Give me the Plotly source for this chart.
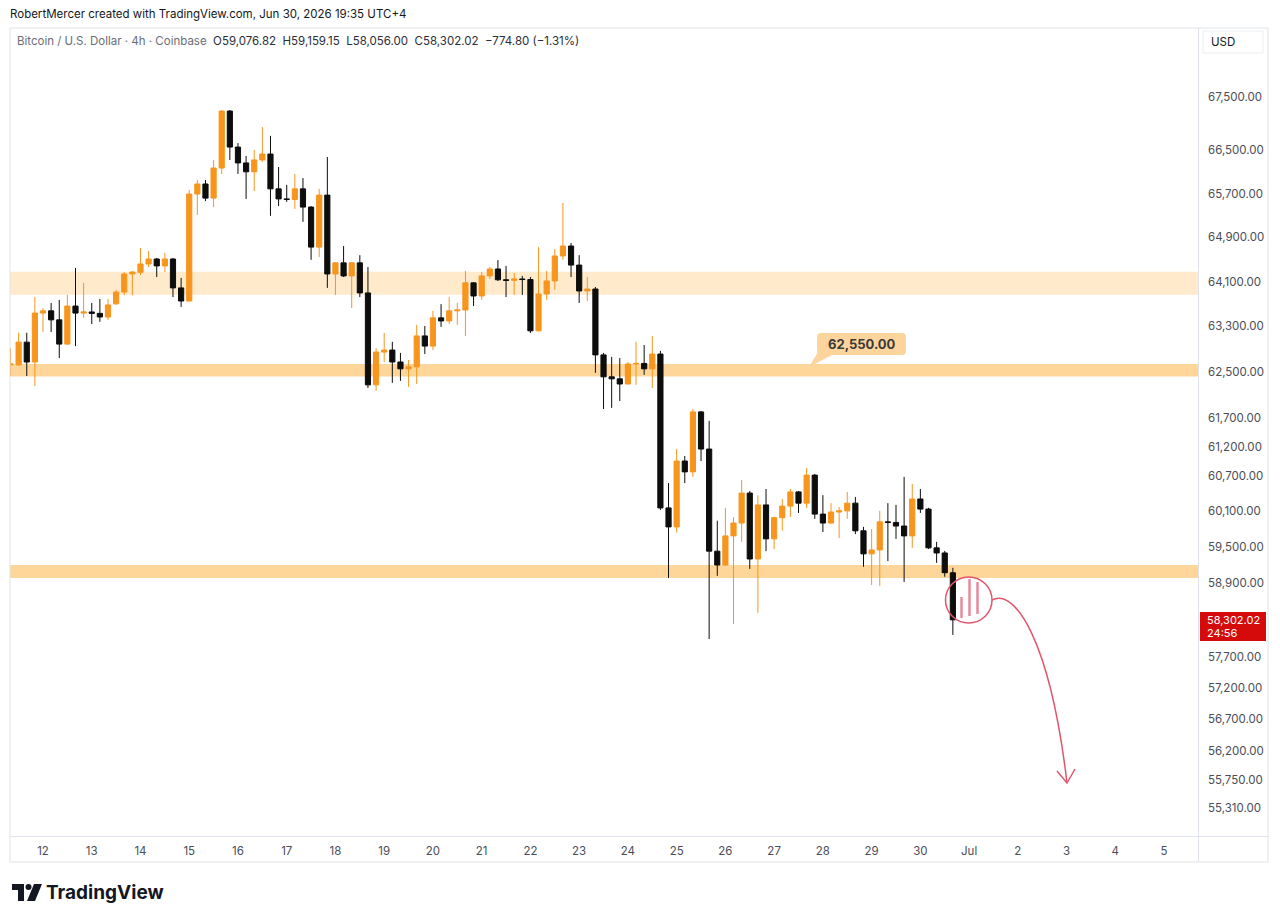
import math
import pandas as pd
import plotly.graph_objects as go

# ---------------- data (BTC/USD 4h, Coinbase) ----------------
opens = [62620, 62620, 63020, 62670, 63535, 63575, 63415, 62985, 63660, 63535,
         63555, 63530, 63465, 63700, 63910, 64235, 64265, 64415, 64505, 64380,
         64505, 63985, 63750, 65690, 65875, 65615, 66170, 67235, 66560, 66265,
         66100, 66320, 66430, 65785, 65600, 65590, 65785, 65450, 64720, 65670,
         64235, 64435, 64200, 64435, 63895, 62270, 62845, 62880, 62670, 62550,
         62585, 63130, 62950, 63450, 63395, 63575, 63590, 64075, 63840, 64200,
         64325, 64130, 64120, 64145, 64135, 63220, 63875, 64110, 64560, 64740,
         64395, 63930, 63965, 62795, 62410, 62375, 62285, 62635, 62645, 62550,
         62810, 60160, 59840, 60955, 60770, 61800, 61160, 59435, 59205, 59690,
         59905, 60410, 59305, 60210, 59640, 59995, 60190, 60430, 60240, 60715,
         60055, 59905, 60090, 60110, 60240, 59775, 59390, 59455, 59925, 59915,
         59855, 59690, 60310, 60140, 59490, 59405, 59076.82]
highs = [62915, 63185, 63185, 63820, 63625, 63715, 63770, 63860, 64345, 64075,
         63715, 63785, 63785, 63950, 64270, 64285, 64705, 64650, 64525, 64615,
         64525, 64165, 65765, 65950, 65950, 66320, 67255, 67255, 66635, 66395,
         66505, 66935, 66770, 66190, 65860, 66060, 65985, 65470, 65785, 66375,
         64450, 64740, 64440, 64575, 64360, 62915, 63183, 63025, 62830, 62705,
         63325, 63305, 63575, 63695, 63820, 63715, 64290, 64090, 64270, 64360,
         64485, 64380, 64255, 64200, 64180, 64720, 64290, 64685, 65525, 64795,
         64575, 64180, 64000, 62830, 62760, 62740, 62670, 63025, 62970, 63130,
         62865, 60580, 61160, 61040, 61850, 61815, 61645, 59945, 60160, 60005,
         60630, 60445, 60375, 60480, 60010, 60310, 60480, 60445, 60835, 60735,
         60375, 60240, 60175, 60430, 60345, 59840, 59805, 60110, 60240, 60210,
         60685, 60565, 60480, 60160, 59590, 59440, 59159.15]
lows = [62425, 62600, 62425, 62250, 63200, 63200, 62740, 62975, 62950, 63450,
        63340, 63380, 63410, 63680, 63855, 63855, 64215, 64360, 64180, 64270,
        63820, 63645, 63745, 65305, 65560, 65450, 66060, 66320, 66060, 65600,
        65745, 66285, 65290, 65470, 65545, 65415, 65180, 64490, 64540, 63985,
        63860, 64180, 63625, 63820, 62215, 62165, 62670, 62305, 62340, 62235,
        62285, 62810, 62880, 63290, 63340, 63325, 63130, 63660, 63770, 64145,
        64110, 63820, 63860, 63860, 63180, 63210, 63770, 63950, 64490, 64180,
        63715, 63750, 62480, 61850, 61870, 61990, 62280, 62270, 62445, 62215,
        60125, 58990, 59745, 60580, 60685, 60955, 57990, 59025, 59190, 58235,
        59590, 59140, 58415, 59435, 59470, 59775, 60005, 60075, 60160, 59975,
        59755, 59890, 59655, 59975, 59720, 59175, 58875, 58860, 59270, 59640,
        58925, 59490, 60075, 59470, 59240, 59010, 58056.00]
closes = [62635, 63020, 62670, 63535, 63575, 63415, 62985, 63660, 63535, 63555,
          63530, 63465, 63680, 63910, 64235, 64270, 64415, 64505, 64380, 64505,
          63985, 63750, 65690, 65875, 65615, 66170, 67235, 66560, 66265, 66100,
          66320, 66430, 65785, 65600, 65590, 65785, 65450, 64720, 65670, 64235,
          64435, 64200, 64435, 63895, 62270, 62845, 62880, 62670, 62550, 62585,
          63130, 62950, 63450, 63395, 63575, 63590, 64075, 63840, 64200, 64325,
          64130, 64120, 64145, 64135, 63220, 63875, 64110, 64560, 64740, 64395,
          63930, 63965, 62795, 62410, 62375, 62285, 62635, 62645, 62550, 62810,
          60160, 59840, 60955, 60770, 61800, 61160, 59435, 59205, 59690, 59905,
          60410, 59305, 60210, 59640, 59995, 60190, 60430, 60240, 60715, 60055,
          59905, 60090, 60110, 60240, 59775, 59390, 59455, 59925, 59915, 59855,
          59690, 60310, 60140, 59490, 59405, 59076.82, 58302.02]
first_candle = "2026-06-11 08:00"
times = pd.date_range(first_candle, periods=len(opens), freq="4h")

price_ticks = [67500, 66500, 65700, 64900, 64100, 63300, 62500, 61700, 61200,
               60700, 60100, 59500, 58900, 57700, 57200, 56700, 56200, 55750, 55310]
price_tick_labels = [f"{v:,.2f}" for v in price_ticks]

day_ticks = pd.date_range("2026-06-12", "2026-07-05", freq="D")
day_tick_labels = ["Jul" if d.day == 1 else str(d.day) for d in day_ticks]

zone_low = [63860, 62414, 58991]
zone_high = [64277, 62636, 59206]
zone_strength = ["light", "strong", "strong"]
level_label = "62,550.00"
countdown = "24:56"

# ---------------- styling ----------------
W, H = 1280, 922
PL, PR, PT, PB = 10, 1198, 28, 836
ORANGE = "#F7951D"
BLACK = "#0d0d0d"
FONT = "Inter"
GRID = "#e0e3eb"


def px(x):
    return (x - PL) / (PR - PL)


def py(y):
    return (PB - y) / (PB - PT)


fig = go.Figure()
fig.add_trace(go.Candlestick(
    x=times, open=opens, high=highs, low=lows, close=closes,
    increasing=dict(line=dict(color=ORANGE, width=1), fillcolor=ORANGE),
    decreasing=dict(line=dict(color=BLACK, width=1), fillcolor=BLACK),
    whiskerwidth=0, showlegend=False, hoverinfo="skip",
))

shapes = []
zone_colors = {"light": "rgba(255,152,0,0.20)", "strong": "rgba(255,152,0,0.40)"}
for lo, hi, s in zip(zone_low, zone_high, zone_strength):
    shapes.append(dict(type="rect", xref="paper", yref="y", x0=0, x1=1, y0=lo, y1=hi,
                       fillcolor=zone_colors[s], line=dict(width=0), layer="below"))

# frame lines
line_c = dict(color=GRID, width=1)
shapes += [
    dict(type="line", xref="paper", yref="paper", x0=px(PR + 0.5), x1=px(PR + 0.5), y0=py(PT), y1=py(862), line=line_c),
    dict(type="line", xref="paper", yref="paper", x0=px(10), x1=px(1268), y0=py(836.5), y1=py(836.5), line=line_c),
    dict(type="line", xref="paper", yref="paper", x0=px(10), x1=px(1268), y0=py(862), y1=py(862), line=line_c),
    dict(type="line", xref="paper", yref="paper", x0=px(10), x1=px(10), y0=py(PT), y1=py(862), line=line_c),
    dict(type="line", xref="paper", yref="paper", x0=px(1268), x1=px(1268), y0=py(PT), y1=py(862), line=line_c),
    dict(type="line", xref="paper", yref="paper", x0=px(10), x1=px(1268), y0=py(PT), y1=py(PT), line=line_c),
]

# USD box
shapes.append(dict(type="rect", xref="paper", yref="paper", x0=px(1203), x1=px(1263), y0=py(53), y1=py(31),
                   line=dict(color="#eceef2", width=1), fillcolor="white"))

# last-price label
shapes.append(dict(type="rect", xref="paper", yref="paper", x0=px(1200), x1=px(1266), y0=py(641), y1=py(612),
                   line=dict(width=0), fillcolor="#d50b0b"))

# callout box with pointer
def rrect(x0, y0, x1, y1, r):
    return (f"M {px(x0 + r)},{py(y0)} L {px(x1 - r)},{py(y0)} Q {px(x1)},{py(y0)} {px(x1)},{py(y0 + r)} "
            f"L {px(x1)},{py(y1 - r)} Q {px(x1)},{py(y1)} {px(x1 - r)},{py(y1)} "
            f"L {px(x0 + r)},{py(y1)} Q {px(x0)},{py(y1)} {px(x0)},{py(y1 - r)} "
            f"L {px(x0)},{py(y0 + r)} Q {px(x0)},{py(y0)} {px(x0 + r)},{py(y0)} Z")

CALL = "#fdd49c"
shapes.append(dict(type="path", xref="paper", yref="paper", path=rrect(817, 333, 906, 355, 4),
                   fillcolor=CALL, line=dict(width=0)))
shapes.append(dict(type="path", xref="paper", yref="paper",
                   path=f"M {px(818)},{py(352)} L {px(832)},{py(355)} L {px(809)},{py(367)} Z",
                   fillcolor=CALL, line=dict(width=0)))

# circle + bars + arrow (drawing)
PINK = "#e0566d"
shapes.append(dict(type="circle", xref="paper", yref="paper", x0=px(945.5), x1=px(992), y0=py(623), y1=py(577),
                   line=dict(color=PINK, width=1.5)))
for bx, by0, by1 in [(961.5, 597, 618), (969.5, 579, 616), (977.5, 582, 614)]:
    shapes.append(dict(type="line", xref="paper", yref="paper", x0=px(bx), x1=px(bx), y0=py(by0), y1=py(by1),
                       line=dict(color="#e98a9b", width=2.5)))
shapes.append(dict(type="path", xref="paper", yref="paper",
                   path=f"M {px(992)},{py(600)} C {px(1015)},{py(588)} {px(1050)},{py(640)} {px(1067)},{py(783)}",
                   line=dict(color=PINK, width=1.5)))
shapes.append(dict(type="path", xref="paper", yref="paper",
                   path=f"M {px(1057)},{py(771)} L {px(1067)},{py(783)} L {px(1075)},{py(769)}",
                   line=dict(color=PINK, width=1.5)))

# TradingView logo mark
shapes.append(dict(type="path", xref="paper", yref="paper",
                   path=f"M {px(12)},{py(884)} L {px(24)},{py(884)} L {px(24)},{py(901)} L {px(18)},{py(901)} "
                        f"L {px(18)},{py(890)} L {px(12)},{py(890)} Z",
                   fillcolor="#131722", line=dict(width=0)))
shapes.append(dict(type="circle", xref="paper", yref="paper", x0=px(25.5), x1=px(31.5), y0=py(890), y1=py(884),
                   fillcolor="#131722", line=dict(width=0)))
shapes.append(dict(type="path", xref="paper", yref="paper",
                   path=f"M {px(34)},{py(884)} L {px(42)},{py(884)} L {px(35)},{py(901)} L {px(27)},{py(901)} Z",
                   fillcolor="#131722", line=dict(width=0)))

annotations = []


def text(x, y, s, size=12, color="#131722", anchor="left", bold=False):
    annotations.append(dict(xref="paper", yref="paper", x=px(x), y=py(y), text=f"<b>{s}</b>" if bold else s,
                            showarrow=False, xanchor=anchor, yanchor="middle",
                            font=dict(family=FONT, size=size, color=color)))


text(8, 14, "RobertMercer created with TradingView.com, Jun 30, 2026 19:35 UTC+4", size=11.5)
chg = closes[-1] - opens[-1]
pct = chg / opens[-1] * 100
ohlc = (f"O{opens[-1]:,.2f}  H{highs[-1]:,.2f}  L{lows[-1]:,.2f}  C{closes[-1]:,.2f}  "
        f"{chg:,.2f} ({pct:.2f}%)").replace("-", "\u2212")
text(15, 41, f'<span style="color:#6a6d78">Bitcoin / U.S. Dollar · 4h · Coinbase</span>  '
             f'<span style="color:#2a2e39">{ohlc}</span>', size=11.5)
text(1209, 42, "USD", size=11.5)
text(1205, 620, f"{closes[-1]:,.2f}", size=11, color="white")
text(1205, 633, countdown, size=11, color="white")
text(861.5, 344, level_label, size=13, color="#3a3a3a", anchor="center", bold=True)
text(44, 892, "TradingView", size=19, color="#131722", bold=True)

fig.update_layout(
    width=W, height=H, autosize=False,
    margin=dict(l=PL, r=W - PR, t=PT, b=H - PB, pad=0),
    paper_bgcolor="white", plot_bgcolor="white",
    showlegend=False, hovermode=False,
    boxgap=0.25, boxgroupgap=0.15,
    shapes=shapes, annotations=annotations,
    font=dict(family=FONT),
)
fig.update_xaxes(
    type="date", range=["2026-06-11 07:45", "2026-07-05 16:42"],
    rangeslider=dict(visible=False), showgrid=False, zeroline=False, showline=False,
    tickmode="array", tickvals=day_ticks, ticktext=day_tick_labels, ticks="",
    tickfont=dict(family=FONT, size=11.5, color="#4a4d57"), ticklabelstandoff=6,
)
fig.update_yaxes(
    type="log", side="right",
    range=[math.log10(54876), math.log10(68818)],
    showgrid=False, zeroline=False, showline=False,
    tickmode="array", tickvals=price_ticks, ticktext=price_tick_labels, ticks="",
    tickfont=dict(family=FONT, size=11.5, color="#4a4d57"), ticklabelstandoff=9,
)

fig.write_html("out.html", config={"displayModeBar": False})
